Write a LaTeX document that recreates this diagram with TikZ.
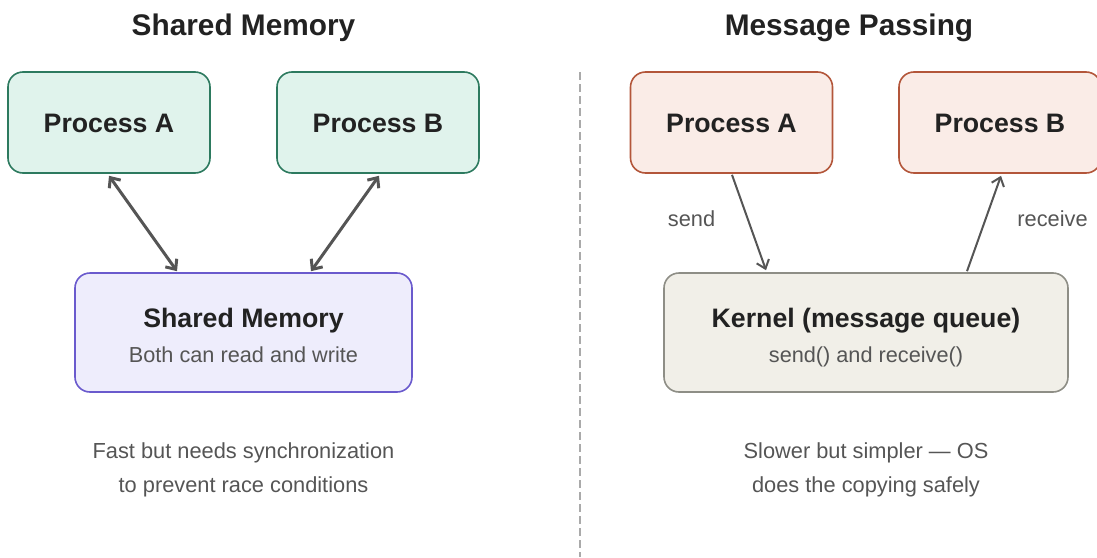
\documentclass[tikz,border=0pt]{standalone}
\usepackage{fontspec}
\setmainfont{Liberation Sans}
\usetikzlibrary{arrows.meta,calc}

\definecolor{ink}{HTML}{222222}
\definecolor{subink}{HTML}{555555}
\definecolor{wire}{HTML}{555555}
\definecolor{divider}{HTML}{AAAAAA}
\definecolor{greenline}{HTML}{2D7A5F}
\definecolor{greenfill}{HTML}{E0F3EC}
\definecolor{purpleline}{HTML}{6A5ACD}
\definecolor{purplefill}{HTML}{EEEDFC}
\definecolor{rustline}{HTML}{B3563A}
\definecolor{rustfill}{HTML}{FAECE7}
\definecolor{greyline}{HTML}{8E8E86}
\definecolor{greyfill}{HTML}{F1EFE8}

\tikzset{
  box/.style={draw, line width=1.6pt, rounded corners=15pt, inner sep=0pt},
  procgreen/.style={box, draw=greenline, fill=greenfill, minimum width=202pt, minimum height=101pt},
  procrust/.style={box, draw=rustline, fill=rustfill, minimum width=202pt, minimum height=101pt},
  boxlabel/.style={anchor=base, inner sep=0pt, text=ink, font=\fontsize{26.7}{30}\selectfont\bfseries},
  boxsub/.style={anchor=base, inner sep=0pt, text=subink, font=\fontsize{21.7}{25}\selectfont},
  heading/.style={anchor=base, inner sep=0pt, text=ink, font=\fontsize{29.8}{34}\selectfont\bfseries},
  note/.style={anchor=base, inner sep=0pt, text=subink, font=\fontsize{21.8}{25}\selectfont},
  thickwire/.style={draw=wire, line width=3pt, {Straight Barb[length=8pt,width=14pt]}-{Straight Barb[length=8pt,width=14pt]}},
  thinwire/.style={draw=wire, line width=2pt, -{Straight Barb[length=8pt,width=13pt]}},
}

\begin{document}
\begin{tikzpicture}[x=1pt, y=-1pt]
  \useasboundingbox (0,0) rectangle (1097,557);

  % headings
  \node[heading] (hshared) at (243.5,35) {Shared Memory};
  \node[heading] (hmsg) at (849,35) {Message Passing};

  % divider between the two halves
  \coordinate (divtop) at (580,72);
  \coordinate (divbot) at (580,557);
  \draw[divider, line width=2pt, dash pattern=on 8pt off 4pt] (divtop) -- (divbot);

  % ---- shared memory side ----
  \node[procgreen] (spa) at (109,122.5) {};
  \node[boxlabel] (spat) at (109,132.7) {Process A};
  \node[procgreen] (spb) at (378,122.5) {};
  \node[boxlabel] (spbt) at (378,132.7) {Process B};

  \node[box, draw=purpleline, fill=purplefill, minimum width=337pt, minimum height=119pt] (shm) at (243.5,332.5) {};
  \node[boxlabel] (shmt) at (243.5,327.7) {Shared Memory};
  \node[boxsub] (shms) at (243.5,362) {Both can read and write};

  \draw[thickwire] ([yshift=-2pt]spa.south) -- ([xshift=-66.5pt,yshift=1pt]shm.north);
  \draw[thickwire] ([xshift=1pt,yshift=-2pt]spb.south) -- ([xshift=67.5pt,yshift=1pt]shm.north);

  \node[note] (shn1) at (243.5,458.5) {Fast but needs synchronization};
  \node[note] (shn2) at (243.5,492) {to prevent race conditions};

  % ---- message passing side ----
  \node[procrust] (mpa) at (731.5,122.5) {};
  \node[boxlabel] (mpat) at (731.5,132.7) {Process A};
  \node[procrust] (mpb) at (1000,122.5) {};
  \node[boxlabel] (mpbt) at (1000,132.7) {Process B};

  \node[box, draw=greyline, fill=greyfill, minimum width=404pt, minimum height=119pt] (krn) at (866,332.5) {};
  \node[boxlabel] (krnt) at (866,327.7) {Kernel (message queue)};
  \node[boxsub] (krns) at (866,362) {send() and receive()};

  \draw[thinwire] ([xshift=0.5pt,yshift=-1pt]mpa.south) -- ([xshift=-100pt,yshift=2pt]krn.north);
  \draw[thinwire] ([xshift=101pt,yshift=1pt]krn.north) -- ([xshift=1pt,yshift=-2pt]mpb.south);

  \node[note] (lsend) at (691.5,226.7) {send};
  \node[note] (lrecv) at (1052.5,226.7) {receive};

  \node[note] (mpn1) at (866,458.5) {Slower but simpler — OS};
  \node[note] (mpn2) at (866,492) {does the copying safely};
\end{tikzpicture}
\end{document}
